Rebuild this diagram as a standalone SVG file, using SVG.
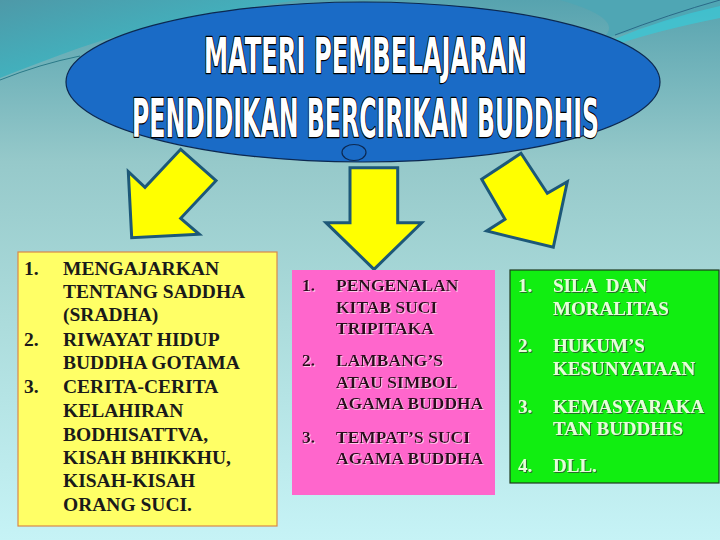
<svg xmlns="http://www.w3.org/2000/svg" width="720" height="540" viewBox="0 0 720 540">
<defs>
<linearGradient id="bg" x1="0" y1="0" x2="0" y2="1">
<stop offset="0" stop-color="#57a3af"/>
<stop offset="0.3" stop-color="#96c9ca"/>
<stop offset="0.6" stop-color="#acdcdc"/>
<stop offset="1" stop-color="#c6f3f6"/>
</linearGradient>
<linearGradient id="swl" x1="0" y1="0" x2="1" y2="1">
<stop offset="0" stop-color="#4e99a8"/>
<stop offset="1" stop-color="#36c8d2"/>
</linearGradient>
<filter id="shDark" x="-5%" y="-20%" width="110%" height="140%">
<feDropShadow dx="1" dy="1" stdDeviation="0.3" flood-color="#2f5f2f" flood-opacity="0.9"/>
</filter>
<filter id="shLight" x="-5%" y="-20%" width="110%" height="140%">
<feDropShadow dx="1" dy="1" stdDeviation="0.3" flood-color="#ffd0ee" flood-opacity="0.9"/>
</filter>
</defs>
<style>
.arrow{fill:#ffff00;stroke:#1d5878;stroke-width:3;stroke-linejoin:miter}
.title{font-family:"Liberation Sans Narrow","DejaVu Sans Condensed","Liberation Sans",sans-serif;font-weight:bold;fill:#ffffff;stroke:#000000;stroke-width:2.5;paint-order:stroke;stroke-linejoin:round}
.t{font-family:"Liberation Serif","DejaVu Serif",serif;font-weight:bold;white-space:pre}
.ty{font-size:19.5px;fill:#1a1a1a}
.tp{font-size:17.5px;fill:#2a0a1c}
.tg{font-size:19px;fill:#e4ffd8}
</style>
<rect x="0" y="0" width="720" height="540" fill="url(#bg)"/>
<path d="M0,0 H300 Q150,20 60,55 Q25,68 0,78 Z" fill="url(#swl)"/>
<path d="M0,80 Q40,64 80,56" fill="none" stroke="#2a7a88" stroke-width="1"/>
<path d="M560,0 H720 V8 Q660,22 600,40 Q630,20 560,0 Z" fill="#4fa6b4"/>
<path d="M612,40 Q665,18 720,6 L720,18 Q660,30 618,44 Z" fill="#3cc6d3" opacity="0.8"/>
<path d="M615,35 Q670,14 720,0" fill="none" stroke="#2a6a88" stroke-width="1"/>

<g id="connectors">
<polygon class="arrow" points="180.7,149.3 216,180.7 180.7,218.3 199.3,234.3 131.7,237.7 128.3,171.7 145,187.3"/>
<polygon class="arrow" points="350,167.7 397.7,167.7 397.7,222.7 421.7,222.7 374,269.3 326,222.7 350,222.7"/>
<polygon class="arrow" points="521,153.3 481.7,179.3 505,219.3 486.7,231 553.3,247.3 567.3,181.7 547.3,193.3"/>
</g>

<g id="title">
<ellipse cx="363" cy="82" rx="297" ry="80" fill="#1a6bc6" stroke="#0c2850" stroke-width="1.2"/>
<ellipse cx="354" cy="152.5" rx="12" ry="8" fill="none" stroke="#0c2850" stroke-width="1.2"/>
<text class="title" x="204" y="73" font-size="49" textLength="323" lengthAdjust="spacingAndGlyphs">MATERI PEMBELAJARAN</text>
<text class="title" x="132" y="137" font-size="53" textLength="467" lengthAdjust="spacingAndGlyphs">PENDIDIKAN BERCIRIKAN BUDDHIS</text>
</g>

<g id="box-saddha">
<rect x="18" y="252" width="259" height="274" fill="#ffff66" stroke="#d9894a" stroke-width="1.2"/>
<text class="t ty" x="24" y="275">1.</text>
<text class="t ty" x="63" y="275">MENGAJARKAN</text>
<text class="t ty" x="63" y="298">TENTANG SADDHA</text>
<text class="t ty" x="63" y="321">(SRADHA)</text>
<text class="t ty" x="24" y="346">2.</text>
<text class="t ty" x="63" y="346">RIWAYAT HIDUP</text>
<text class="t ty" x="63" y="369">BUDDHA GOTAMA</text>
<text class="t ty" x="24" y="393">3.</text>
<text class="t ty" x="63" y="393">CERITA-CERITA</text>
<text class="t ty" x="63" y="417">KELAHIRAN</text>
<text class="t ty" x="63" y="441">BODHISATTVA,</text>
<text class="t ty" x="63" y="464">KISAH BHIKKHU,</text>
<text class="t ty" x="63" y="487">KISAH-KISAH</text>
<text class="t ty" x="63" y="511">ORANG SUCI.</text>
</g>

<g id="box-kitab">
<rect x="292" y="270" width="203" height="225" fill="#ff66cc"/>
<g filter="url(#shLight)">
<text class="t tp" x="302" y="291">1.</text>
<text class="t tp" x="336" y="291">PENGENALAN</text>
<text class="t tp" x="336" y="313">KITAB SUCI</text>
<text class="t tp" x="336" y="334">TRIPITAKA</text>
<text class="t tp" x="302" y="366">2.</text>
<text class="t tp" x="336" y="366">LAMBANG’S</text>
<text class="t tp" x="336" y="388">ATAU SIMBOL</text>
<text class="t tp" x="336" y="409">AGAMA BUDDHA</text>
<text class="t tp" x="302" y="443">3.</text>
<text class="t tp" x="336" y="443">TEMPAT’S SUCI</text>
<text class="t tp" x="336" y="464">AGAMA BUDDHA</text>
</g>
</g>

<g id="box-sila">
<rect x="510" y="270" width="209" height="213" fill="#11ee11" stroke="#1e3a1e" stroke-width="1.2"/>
<g filter="url(#shDark)">
<text class="t tg" x="518" y="292">1.</text>
<text class="t tg" x="553" y="292">SILA  DAN</text>
<text class="t tg" x="553" y="315">MORALITAS</text>
<text class="t tg" x="518" y="352">2.</text>
<text class="t tg" x="553" y="352">HUKUM’S</text>
<text class="t tg" x="553" y="375">KESUNYATAAN</text>
<text class="t tg" x="518" y="413">3.</text>
<text class="t tg" x="553" y="413">KEMASYARAKA</text>
<text class="t tg" x="553" y="435">TAN BUDDHIS</text>
<text class="t tg" x="518" y="472">4.</text>
<text class="t tg" x="553" y="472">DLL.</text>
</g>
</g>
</svg>
